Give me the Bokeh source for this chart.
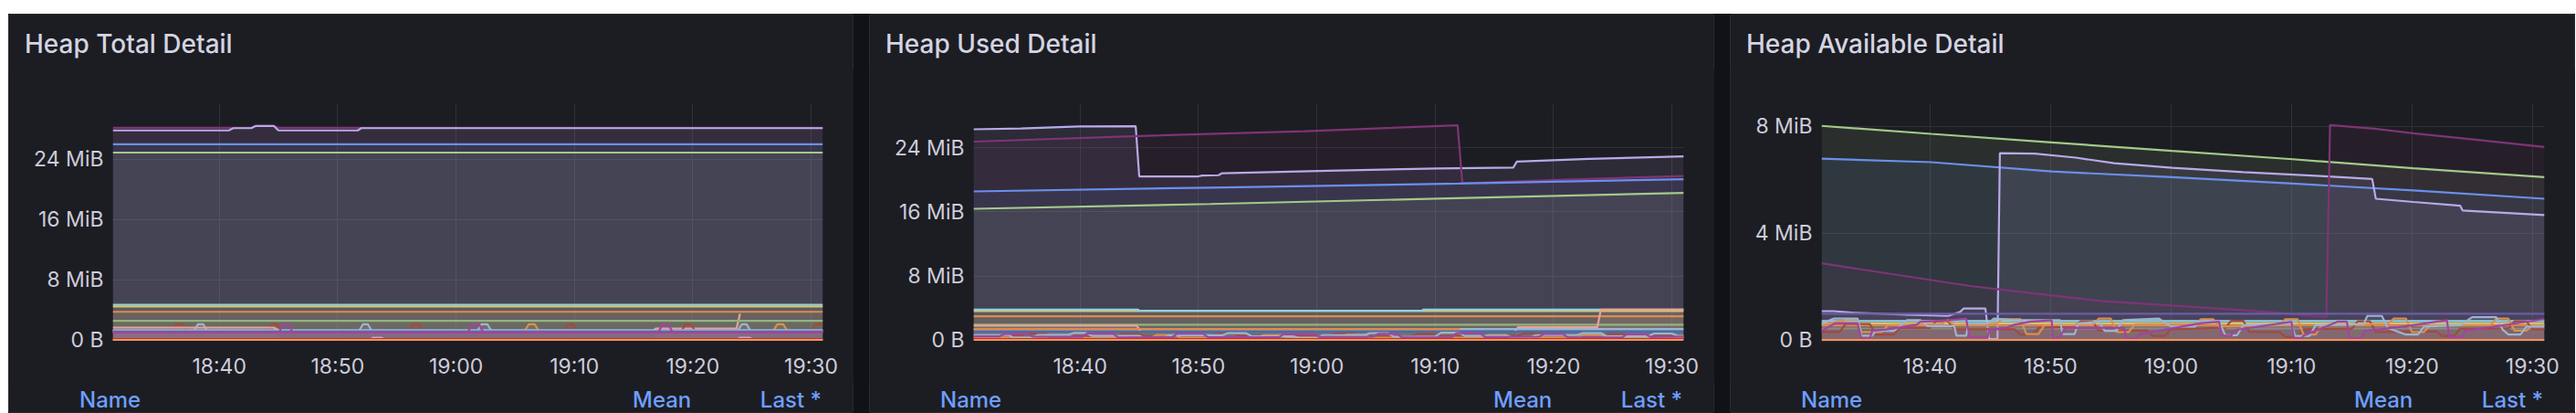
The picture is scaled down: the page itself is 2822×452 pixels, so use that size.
from bokeh.plotting import figure
from bokeh.layouts import row, column
from bokeh.models import Range1d, FixedTicker, Div
from bokeh.embed import file_html
from bokeh.resources import INLINE

# ---------------------------------------------------------------- data
START = "18:31"
END = "19:31"
X_TICK_LABELS = ["18:40", "18:50", "19:00", "19:10", "19:20", "19:30"]

TITLES = ["Heap Total Detail", "Heap Used Detail", "Heap Available Detail"]
LEGEND_HEADERS = ["Name", "Mean", "Last *"]

TOTAL_Y_TICKS = [0, 8, 16, 24]
TOTAL_Y_LABELS = ["0 B", "8 MiB", "16 MiB", "24 MiB"]
USED_Y_TICKS = [0, 8, 16, 24]
USED_Y_LABELS = ["0 B", "8 MiB", "16 MiB", "24 MiB"]
AVAIL_Y_TICKS = [0, 4, 8]
AVAIL_Y_LABELS = ["0 B", "4 MiB", "8 MiB"]

# each series: [minutes after START, MiB]
# ---- Heap Total Detail
TOT_PURPLE = [[0, 28.2], [11.7, 28.2], [12.1, 28.45], [13.6, 28.45], [14.0, 28.2], [60, 28.2]]
TOT_LAVENDER = [[0, 27.85], [9.8, 27.85], [10.2, 28.15], [11.7, 28.15], [12.1, 28.45], [13.6, 28.45],
                [14.0, 27.85], [20.7, 27.85], [21.0, 28.15], [60, 28.15]]
TOT_BLUE = [[0, 26.0], [60, 26.0]]
TOT_GREEN = [[0, 24.9], [60, 24.9]]
TOT_CYAN = [[0, 4.68], [60, 4.68]]
TOT_YELLOW = [[0, 4.45], [60, 4.45]]
TOT_SALMON_B = [[45.7, 1.3], [45.9, 1.52], [52.7, 1.52], [53.0, 3.5]]
TOT_ORANGE = [[0, 3.74], [60, 3.74]]
TOT_OLIVE = [[0, 2.53], [60, 2.53]]
TOT_BROWN_H = [[0, 1.19], [5.0, 1.19], [5.35, 2.09], [5.9, 2.09], [6.25, 1.19], [13.1, 1.19], [13.45, 2.09],
               [13.85, 2.09], [14.2, 1.19], [25.0, 1.19], [25.35, 2.09], [25.9, 2.09], [26.25, 1.19],
               [38.1, 1.19], [38.45, 2.09], [38.9, 2.09], [39.25, 1.19], [48.05, 1.19], [48.4, 2.09],
               [48.85, 2.09], [49.2, 1.19], [59.0, 1.19], [59.35, 2.09], [60, 2.09]]
TOT_GRAYBLUE_H = [[0, 1.19], [6.85, 1.19], [7.2, 2.09], [7.65, 2.09], [8.0, 1.19], [20.8, 1.19], [21.15, 2.09],
                  [21.55, 2.09], [21.9, 1.19], [30.8, 1.19], [31.15, 2.09], [31.65, 2.09], [32.0, 1.19],
                  [52.8, 1.19], [53.15, 2.09], [53.55, 2.09], [53.9, 1.19], [60, 1.19]]
TOT_PURPLE_H = [[0, 1.0], [14.05, 1.0], [14.4, 2.09], [14.85, 2.09], [15.2, 1.0], [30.0, 1.0], [30.35, 2.09],
                [30.95, 2.09], [31.3, 1.0], [46.1, 1.0], [46.45, 2.09], [46.95, 2.09], [47.3, 1.0], [60, 1.0]]
TOT_ORANGE_H = [[0, 1.19], [34.8, 1.19], [35.15, 2.09], [35.65, 2.09], [36.0, 1.19], [55.8, 1.19],
                [56.15, 2.09], [56.65, 2.09], [57.0, 1.19], [60, 1.19]]
TOT_SALMON_A = [[0, 1.64], [13.6, 1.64], [14.0, 1.3]]
TOT_GRAYBLUE = [[0, 1.31], [60, 1.31]]
TOT_BLUE2 = [[0, 1.12], [60, 1.12]]
TOT_PURPLE2 = [[0, 1.0], [60, 1.0]]
TOT_PINK = [[0, 0.0], [21.7, 0.0], [22.0, 0.3], [22.7, 0.3], [23.0, 0.0], [52.7, 0.0], [53.0, 0.3],
            [53.8, 0.3], [54.1, 0.0], [60, 0.0]]
TOT_RED = [[0, 0.1], [60, 0.1]]
TOT_ZERO = [[0, 0.0], [60, 0.0]]

# ---- Heap Used Detail
USED_LAVENDER = [[0, 26.34], [4, 26.45], [8.9, 26.7], [13.7, 26.72], [14.0, 20.43], [18.9, 20.43],
                 [19.3, 20.55], [20.7, 20.6], [21.0, 20.85], [30, 21.15], [39.2, 21.45], [45.6, 21.55],
                 [45.9, 22.3], [52, 22.65], [60, 22.95]]
USED_MAGENTA = [[0, 24.8], [14, 25.5], [28, 26.1], [40.9, 26.84], [41.3, 19.6], [50, 20.05], [60, 20.5]]
USED_BLUE = [[0, 18.57], [20, 19.05], [41, 19.55], [60, 20.1]]
USED_GREEN = [[0, 16.4], [20, 17.0], [40, 17.7], [60, 18.38]]
USED_YELLOW = [[0, 3.6], [60, 3.6]]
USED_CYAN = [[0, 3.79], [13.9, 3.79], [14.0, 3.66], [37.9, 3.66], [38.0, 3.79], [60, 3.79]]
USED_ORANGE = [[0, 2.95], [60, 2.95]]
USED_OLIVE = [[0, 1.89], [60, 1.89]]
USED_SALMON_A = [[0, 1.77], [13.8, 1.77], [14.1, 1.12]]
USED_SALMON_B = [[45.75, 1.12], [46.0, 1.58], [52.7, 1.58], [53.0, 3.79], [60, 3.79]]
USED_GRAYBLUE = [[0, 1.35], [60, 1.35]]
USED_ORANGE2 = [[0, 1.35], [41.1, 1.35]]
USED_BLUE2 = [[0, 1.02], [60, 1.02]]
USED_BROWN_J = [[0, 0.55], [4, 0.55], [4.5, 0.8], [6, 0.8], [6.5, 0.5], [12, 0.5], [12.5, 0.75], [14, 0.75],
                [14.5, 0.45], [20, 0.45], [20.5, 0.78], [22, 0.78], [22.5, 0.5], [30, 0.5], [30.5, 0.8],
                [32, 0.8], [32.5, 0.45], [37, 0.45], [37.5, 0.75], [39, 0.75], [39.5, 0.5], [46, 0.5],
                [46.5, 0.8], [48, 0.8], [48.5, 0.45], [53, 0.45], [53.5, 0.75], [55, 0.75], [55.5, 0.5], [60, 0.5]]
USED_ORANGE_J = [[0, 0.3], [6, 0.3], [6.5, 0.6], [8, 0.6], [8.5, 0.25], [15, 0.25], [15.5, 0.62], [17, 0.62],
                 [17.5, 0.28], [24, 0.28], [24.5, 0.6], [26, 0.6], [26.5, 0.3], [31, 0.3], [31.5, 0.65],
                 [33, 0.65], [33.5, 0.28], [43, 0.28], [43.5, 0.62], [45, 0.62], [45.5, 0.3], [51, 0.3],
                 [51.5, 0.6], [53, 0.6], [53.5, 0.28], [60, 0.28]]
USED_GRAYBLUE_J = [[0, 0.6], [3, 0.6], [3.4, 0.25], [5, 0.25], [5.4, 0.62], [8, 0.62], [8.5, 0.88], [9.5, 0.88],
                   [10, 0.5], [14, 0.5], [14.5, 0.2], [16, 0.2], [16.5, 0.55], [21, 0.58], [21.5, 0.85],
                   [23, 0.85], [23.5, 0.45], [27, 0.45], [27.5, 0.22], [29, 0.22], [29.5, 0.6], [33, 0.6],
                   [33.5, 0.86], [35, 0.86], [35.5, 0.4], [39, 0.42], [39.5, 0.9], [41, 0.9], [41.5, 0.5],
                   [45, 0.5], [45.5, 0.25], [47, 0.25], [47.5, 0.6], [51, 0.6], [51.5, 0.85], [53, 0.85],
                   [53.5, 0.45], [57, 0.45], [57.5, 0.8], [59, 0.8], [59.5, 0.5], [60, 0.5]]
USED_PURPLE_J = [[0, 0.45], [2.2, 0.45], [2.6, 0.75], [4.6, 0.75], [5.0, 0.42], [9.2, 0.38], [9.6, 0.82],
                 [11.8, 0.82], [12.2, 0.3], [16.8, 0.35], [17.2, 0.78], [19.4, 0.78], [19.8, 0.32], [25.8, 0.32],
                 [26.2, 0.72], [28.8, 0.72], [29.2, 0.36], [33.8, 0.4], [34.2, 0.76], [35.8, 0.76], [36.2, 0.3],
                 [40.4, 0.3], [40.8, 0.84], [42.8, 0.84], [43.2, 0.36], [47.8, 0.4], [48.2, 0.76], [49.8, 0.76],
                 [50.2, 0.3], [54.8, 0.3], [55.2, 0.72], [56.8, 0.72], [57.2, 0.36], [60, 0.42]]
USED_RED = [[0, 0.1], [60, 0.1]]
USED_ZERO = [[0, 0.0], [60, 0.0]]

# ---- Heap Available Detail
AVAIL_GREEN = [[0, 8.02], [9.1, 7.72], [19.1, 7.4], [29.1, 7.08], [39.1, 6.77], [49.1, 6.43], [60, 6.1]]
AVAIL_BLUE = [[0, 6.79], [9.1, 6.66], [19.1, 6.31], [29.1, 6.1], [39.1, 5.86], [49.1, 5.6], [60, 5.29]]
AVAIL_LAVENDER = [[0, 1.08], [1.0, 1.08], [2.7, 1.02], [7, 0.95], [10.5, 0.9], [11.5, 1.05], [11.8, 1.18],
                  [13.6, 1.18], [13.9, 0.03], [14.6, 0.03], [14.8, 7.0], [17.7, 6.98], [21.1, 6.83],
                  [24.3, 6.62], [29.1, 6.45], [35, 6.29], [41.4, 6.14], [45.7, 6.03], [46.0, 5.29],
                  [49.1, 5.17], [53.0, 5.03], [53.2, 4.85], [60, 4.68]]
AVAIL_MAGENTA = [[0, 2.87], [12.2, 2.03], [15.0, 1.88], [23.2, 1.46], [29.1, 1.29], [37.3, 1.04],
                 [41.9, 0.85], [42.2, 8.05], [45.9, 7.91], [49.1, 7.74], [54.1, 7.51], [60, 7.23]]
AVAIL_VIOLET = [[0, 0.98], [60, 0.98]]
AVAIL_CYAN = [[0, 0.71], [60, 0.71]]
AVAIL_YELLOW = [[0, 0.62], [60, 0.62]]
AVAIL_ORANGE = [[0, 0.54], [60, 0.54]]
AVAIL_GRAY = [[0, 0.43], [60, 0.43]]
AVAIL_BROWN_J = [[0, 0.3], [1.5, 0.3], [2, 0.6], [4, 0.6], [4.5, 0.2], [6, 0.2], [6.5, 0.45], [9, 0.45],
                 [9.5, 0.7], [10.5, 0.7], [11, 0.4], [16, 0.4], [16.5, 0.2], [17.5, 0.2], [18, 0.45],
                 [21, 0.5], [21.5, 0.7], [22.5, 0.7], [23, 0.35], [27, 0.35], [27.5, 0.15], [28.5, 0.15],
                 [29, 0.4], [33.5, 0.45], [34, 0.72], [35, 0.72], [35.5, 0.3], [38, 0.3], [38.5, 0.12],
                 [39.5, 0.12], [40, 0.4], [44, 0.42], [44.5, 0.7], [45.5, 0.7], [46, 0.3], [51, 0.32],
                 [51.5, 0.15], [52.5, 0.15], [53, 0.42], [57, 0.42], [57.5, 0.7], [58.5, 0.7], [59, 0.4], [60, 0.4]]
AVAIL_ORANGE_J = [[0, 0.55], [2, 0.75], [3, 0.75], [3.3, 0.3], [5, 0.3], [5.5, 0.55], [10, 0.6], [10.5, 0.75],
                  [11, 0.55], [14.5, 0.6], [15, 0.78], [16.5, 0.78], [17, 0.22], [18, 0.22], [18.5, 0.55],
                  [22.5, 0.55], [23, 0.8], [24, 0.8], [24.5, 0.3], [25.5, 0.3], [26, 0.58], [31, 0.6],
                  [31.5, 0.78], [32.5, 0.78], [33, 0.5], [38, 0.55], [38.5, 0.78], [39.5, 0.78], [40, 0.2],
                  [41, 0.2], [41.5, 0.55], [47, 0.6], [47.5, 0.8], [48.5, 0.8], [49, 0.3], [50, 0.3],
                  [50.5, 0.55], [55.5, 0.55], [56, 0.8], [57, 0.8], [57.5, 0.35], [58.5, 0.35], [59, 0.55], [60, 0.55]]
AVAIL_GRAYBLUE_J = [[0, 0.62], [1, 0.8], [3.0, 0.8], [3.3, 0.16], [4.2, 0.16], [4.5, 0.34], [6, 0.34],
                    [7.1, 0.74], [8.2, 0.74], [8.8, 0.52], [11, 0.52], [11.2, 0.16], [12, 0.16], [12.2, 0.62],
                    [13.8, 0.62], [14.3, 0.8], [16, 0.74], [19.8, 0.74], [20.0, 0.22], [21, 0.22], [21.3, 0.62],
                    [23, 0.68], [23.5, 0.34], [24.5, 0.34], [25, 0.74], [28, 0.8], [29, 0.5], [31, 0.5],
                    [31.3, 0.7], [33, 0.7], [33.5, 0.18], [34.5, 0.18], [35, 0.55], [39, 0.6], [39.3, 0.15],
                    [40.5, 0.15], [41, 0.55], [45, 0.6], [45.3, 0.9], [46.5, 0.9], [47, 0.45], [48.5, 0.2],
                    [49.5, 0.2], [50, 0.5], [53, 0.55], [54, 0.85], [56, 0.85], [56.5, 0.4], [57, 0.2],
                    [58, 0.2], [58.5, 0.5], [60, 0.5]]
AVAIL_PURPLE_J = [[0, 0.34], [1.1, 0.62], [3.0, 0.62], [3.3, 0.05], [4.0, 0.05], [4.2, 0.34], [5.4, 0.39],
                  [7.9, 0.57], [8.2, 0.68], [10.7, 0.74], [12.0, 0.79], [12.3, 0.11], [13.8, 0.11], [13.9, 0.39],
                  [15.3, 0.45], [16, 0.57], [17.3, 0.68], [19.1, 0.74], [19.2, 0.05], [19.8, 0.11], [20.2, 0.45],
                  [25.1, 0.45], [25.3, 0.05], [26.1, 0.05], [26.4, 0.22], [31.4, 0.62], [33.0, 0.68],
                  [33.2, 0.16], [34.0, 0.16], [34.3, 0.37], [39.0, 0.68], [39.2, 0.05], [39.8, 0.05],
                  [40.0, 0.16], [42.8, 0.68], [43.6, 0.68], [43.8, 0.07], [44.8, 0.07], [45.1, 0.34],
                  [48.3, 0.5], [51.9, 0.74], [52.1, 0.11], [53.2, 0.11], [53.4, 0.34], [60, 0.78]]
AVAIL_ZERO = [[0, 0.0], [60, 0.0]]

# ---------------------------------------------------------------- styles
C = {
    "purple": "#7e3476", "lavender": "#b8a9e8", "blue": "#6a8fec", "green": "#a3c98a",
    "cyan": "#8fd0e8", "yellow": "#d6c46e", "orange": "#e08a4a", "olive": "#94b27c",
    "salmon": "#eaa297", "grayblue": "#9bb5d1", "blue2": "#3f6fb8", "purple2": "#a244a0",
    "brown": "#a34a3e", "orange2": "#d89050", "pink": "#d79ad0", "red": "#b33a2e",
    "zero": "#f4925a", "violet": "#6b5ca5", "gray": "#8c8a88",
}
PAGE_BG = "#111217"
PANEL_BG = "#1c1d22"
GRID = "#303137"
TEXT = "#ccccdc"
TITLE_C = "#d4d4e2"
LINK = "#6e9fff"

TOTAL_SERIES = [
    (TOT_PURPLE, "purple"), (TOT_LAVENDER, "lavender"), (TOT_BLUE, "blue"), (TOT_GREEN, "green"),
    (TOT_CYAN, "cyan"), (TOT_YELLOW, "yellow"), (TOT_SALMON_B, "salmon"), (TOT_ORANGE, "orange"),
    (TOT_OLIVE, "olive"), (TOT_BROWN_H, "brown"), (TOT_GRAYBLUE_H, "grayblue"), (TOT_ORANGE_H, "orange2"),
    (TOT_SALMON_A, "salmon"), (TOT_GRAYBLUE, "grayblue"), (TOT_BLUE2, "blue2"), (TOT_PURPLE_H, "purple2"),
    (TOT_PURPLE2, "purple2"), (TOT_PINK, "pink"), (TOT_RED, "red"), (TOT_ZERO, "zero"),
]
USED_SERIES = [
    (USED_LAVENDER, "lavender"), (USED_MAGENTA, "purple"), (USED_BLUE, "blue"), (USED_GREEN, "green"),
    (USED_YELLOW, "yellow"), (USED_CYAN, "cyan"), (USED_ORANGE, "orange"), (USED_OLIVE, "olive"),
    (USED_SALMON_A, "salmon"), (USED_SALMON_B, "salmon"), (USED_GRAYBLUE, "grayblue"),
    (USED_ORANGE2, "orange"), (USED_BLUE2, "blue2"), (USED_BROWN_J, "brown"), (USED_ORANGE_J, "orange2"),
    (USED_GRAYBLUE_J, "grayblue"), (USED_PURPLE_J, "purple2"), (USED_RED, "red"), (USED_ZERO, "zero"),
]
AVAIL_SERIES = [
    (AVAIL_GREEN, "green"), (AVAIL_BLUE, "blue"), (AVAIL_LAVENDER, "lavender"), (AVAIL_MAGENTA, "purple"),
    (AVAIL_VIOLET, "violet"), (AVAIL_CYAN, "cyan"), (AVAIL_YELLOW, "yellow"), (AVAIL_ORANGE, "orange"),
    (AVAIL_GRAY, "gray"), (AVAIL_BROWN_J, "brown"), (AVAIL_ORANGE_J, "orange2"),
    (AVAIL_GRAYBLUE_J, "grayblue"), (AVAIL_PURPLE_J, "purple2"), (AVAIL_ZERO, "zero"),
]


def minutes_after_start(hhmm):
    h, m = hhmm.split(":")
    h0, m0 = START.split(":")
    return (int(h) * 60 + int(m)) - (int(h0) * 60 + int(m0))


X_TICKS = [minutes_after_start(t) for t in X_TICK_LABELS]
X_END = minutes_after_start(END)

TITLE_H = 60          # header strip with the panel title
LEGEND_H = 33         # strip with the legend table header
FIG_H = 344           # 38 top + 260 frame + 46 bottom
FIG_TOP = 38
FIG_BOTTOM = 46


def title_div(text, width):
    html = ('<div style="position:relative;width:%dpx;height:%dpx;">'
            '<span style="position:absolute;left:18px;top:19px;font-family:Inter,sans-serif;'
            'font-size:28px;font-weight:500;line-height:28px;color:%s;white-space:nowrap;">%s</span></div>'
            % (width, TITLE_H, TITLE_C, text))
    return Div(text=html, width=width, height=TITLE_H, margin=0)


def legend_div(width, mean_left, last_right):
    span = ('position:absolute;top:7px;font-family:Inter,sans-serif;font-size:24px;font-weight:500;'
            'line-height:24px;color:%s;white-space:nowrap;' % LINK)
    name, mean, last = LEGEND_HEADERS
    html = ('<div style="position:relative;width:%dpx;height:%dpx;">'
            '<span style="%sleft:78px;">%s</span>'
            '<span style="%sleft:%dpx;">%s</span>'
            '<span style="%sright:%dpx;">%s</span></div>'
            % (width, LEGEND_H, span, name, span, mean_left, mean, span, last_right, last))
    return Div(text=html, width=width, height=LEGEND_H, margin=0)


def make_panel(title, series, y_ticks, y_labels, y_range, width, left, right):
    frame_w = width - left - right
    y0, y1 = y_range
    p = figure(width=width, height=FIG_H, output_backend="svg", toolbar_location=None,
               x_range=Range1d(0, X_END), y_range=Range1d(y0, y1),
               min_border_left=left, min_border_right=right,
               min_border_top=FIG_TOP, min_border_bottom=FIG_BOTTOM,
               background_fill_color=PANEL_BG, border_fill_color=PANEL_BG,
               outline_line_color=None)

    for pts, cname in series:
        xs = [a for a, b in pts]
        ys = [b for a, b in pts]
        p.varea(x=xs, y1=0, y2=ys, fill_color=C[cname], fill_alpha=0.1)
    for pts, cname in series:
        xs = [a for a, b in pts]
        ys = [b for a, b in pts]
        p.line(xs, ys, line_color=C[cname], line_width=2.2)

    p.xaxis.ticker = FixedTicker(ticks=X_TICKS)
    p.xaxis.major_label_overrides = {t: lab for t, lab in zip(X_TICKS, X_TICK_LABELS)}
    p.yaxis.ticker = FixedTicker(ticks=y_ticks)
    p.yaxis.major_label_overrides = {t: lab for t, lab in zip(y_ticks, y_labels)}
    for ax in (p.xaxis[0], p.yaxis[0]):
        ax.axis_line_color = None
        ax.major_tick_line_color = None
        ax.minor_tick_line_color = None
        ax.major_tick_out = 0
        ax.major_tick_in = 0
        ax.major_label_text_font = "Inter"
        ax.major_label_text_font_size = "23px"
        ax.major_label_text_color = TEXT
    p.xaxis.major_label_standoff = 13
    p.yaxis.major_label_standoff = 10
    p.grid.grid_line_color = GRID
    p.grid.grid_line_width = 1

    panel = column(title_div(title, width), p, legend_div(width, left + frame_w - 208, right + 1),
                   spacing=0, width=width)
    panel.styles = {"background-color": PANEL_BG, "outline": "1px solid #2a2b31",
                    "outline-offset": "-1px", "border-radius": "3px"}
    return panel


c1 = make_panel(TITLES[0], TOTAL_SERIES, TOTAL_Y_TICKS, TOTAL_Y_LABELS, (-0.18, 31.4), 926, 114, 34)
c2 = make_panel(TITLES[1], USED_SERIES, USED_Y_TICKS, USED_Y_LABELS, (-0.17, 29.54), 926, 114, 34)
c3 = make_panel(TITLES[2], AVAIL_SERIES, AVAIL_Y_TICKS, AVAIL_Y_LABELS, (-0.05, 8.85), 926, 100, 34)

layout = row(c1, c2, c3, spacing=17, margin=(15, 0, 0, 9))
layout.styles = {"background-color": PAGE_BG}

html = file_html(layout, INLINE)
html = html.replace("<body>", '<body style="background-color:%s;">' % PAGE_BG, 1)
open("out.html", "w").write(html)
